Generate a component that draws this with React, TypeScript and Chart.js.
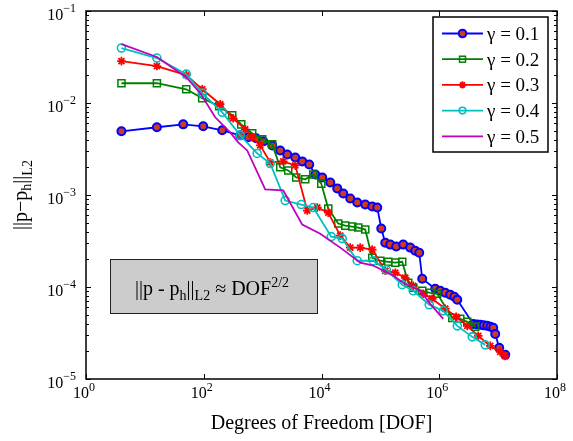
import React, { useEffect, useRef } from 'react';
import { Chart, registerables } from 'chart.js';

Chart.register(...registerables);

// ---- data ----
const dofG1 = [4, 16, 44.8, 97.9, 206, 416, 569, 778, 1023, 1455, 1991, 2618, 3581, 4710, 6194, 7834, 10300, 14090, 18500, 23400, 30770, 40450, 55330, 72750, 88510, 103500, 121100, 147200, 185900, 244400, 321400, 390800, 457100, 514000, 855000, 1.04e6, 1.265e6, 1.538e6, 1.799e6, 2.023e6, 3.779e6, 4.4e6, 4.97e6, 5.7e6, 6.53e6, 7.4e6, 8.26e6, 8.93e6, 1.045e7, 1.321e7];
const errG1 = [4.92e-3, 5.45e-3, 5.86e-3, 5.58e-3, 5.05e-3, 4.45e-3, 4.24e-3, 4.13e-3, 3.83e-3, 3.46e-3, 3.05e-3, 2.76e-3, 2.56e-3, 2.32e-3, 2.15e-3, 1.67e-3, 1.55e-3, 1.37e-3, 1.18e-3, 1.04e-3, 9.16e-4, 8.28e-4, 7.87e-4, 7.5e-4, 7.31e-4, 4.32e-4, 3.03e-4, 2.89e-4, 2.75e-4, 2.89e-4, 2.68e-4, 2.48e-4, 2.36e-4, 1.23e-4, 9.57e-5, 9.1e-5, 8.65e-5, 8.24e-5, 7.83e-5, 7.26e-5, 3.97e-5, 3.92e-5, 3.88e-5, 3.83e-5, 3.78e-5, 3.7e-5, 3.6e-5, 3.09e-5, 2.18e-5, 1.83e-5];

const dofG2 = [4, 16, 50.4, 94.2, 183, 304, 433, 665, 984, 1455, 1991, 2723, 3724, 5297, 7244, 9908, 13030, 19240, 25300, 33270, 42070, 55330, 72750, 99540, 136100, 178800, 235000, 297200, 361400, 514000, 703100, 924700, 1.663e6, 2.275e6, 2.992e6, 4.087e6];
const errG2 = [1.64e-2, 1.64e-2, 1.41e-2, 1.13e-2, 9.22e-3, 7.35e-3, 5.86e-3, 4.68e-3, 4.03e-3, 3.55e-3, 2.0e-3, 1.85e-3, 1.55e-3, 1.48e-3, 1.67e-3, 1.33e-3, 7.13e-4, 4.89e-4, 4.65e-4, 4.54e-4, 4.43e-4, 4.21e-4, 2.08e-4, 1.93e-4, 1.88e-4, 1.84e-4, 1.88e-4, 1.11e-4, 9.81e-5, 9.1e-5, 8.65e-5, 8.44e-5, 4.62e-5, 4.51e-5, 4.18e-5, 3.69e-5];

const dofG3 = [4, 16, 50.4, 94.2, 190, 316, 506, 665, 910, 1346, 2239, 3581, 5728, 8472, 13030, 20810, 30770, 45500, 72750, 121100, 178800, 264300, 361400, 534600, 760300, 1.265e6, 1.945e6, 2.992e6, 4.596e6, 7.35e6, 1.086e7, 1.321e7];
const errG3 = [2.85e-2, 2.52e-2, 2.01e-2, 1.41e-2, 9.69e-3, 6.82e-3, 5.18e-3, 4.24e-3, 3.46e-3, 2.26e-3, 2.32e-3, 2.1e-3, 6.78e-4, 7.31e-4, 6.44e-4, 3.62e-4, 2.68e-4, 2.68e-4, 2.55e-4, 1.5e-4, 1.43e-4, 1.26e-4, 1.03e-4, 8.44e-5, 7.45e-5, 5.8e-5, 4.74e-5, 3.78e-5, 2.94e-5, 2.29e-5, 1.97e-5, 1.78e-5];

const dofG4 = [4, 16, 50.4, 94.2, 206, 416, 809, 1346, 2421, 4529, 7244, 14640, 22500, 40450, 75670, 125900, 235000, 361400, 676100, 1.17e6, 2.023e6, 3.634e6, 6.04e6];
const errG4 = [3.96e-2, 3.08e-2, 2.06e-2, 1.28e-2, 7.93e-3, 4.45e-3, 2.83e-3, 2.2e-3, 8.71e-4, 7.87e-4, 7.31e-4, 3.53e-4, 3.36e-4, 1.93e-4, 1.93e-4, 1.54e-4, 1.06e-4, 9.1e-5, 6.41e-5, 5.51e-5, 3.78e-5, 2.87e-5, 2.35e-5];

const dofG5 = [4, 16, 50.4, 87, 156.6, 281, 385, 547, 1107, 2239, 4710, 9528, 20810, 45500, 75670, 165300, 244400, 475300, 703100, 1.17e6];
const errG5 = [4.37e-2, 3.16e-2, 1.91e-2, 1.28e-2, 6.99e-3, 4.8e-3, 3.73e-3, 3.05e-3, 1.15e-3, 1.12e-3, 4.77e-4, 3.8e-4, 2.68e-4, 1.84e-4, 1.71e-4, 1.33e-4, 1.11e-4, 9.1e-5, 6.56e-5, 4.51e-5];

const seriesLabels = ['γ = 0.1', 'γ = 0.2', 'γ = 0.3', 'γ = 0.4', 'γ = 0.5'];
const xTickExponents = [0, 2, 4, 6, 8];
const yTickExponents = [-5, -4, -3, -2, -1];
const xTitle = 'Degrees of Freedom [DOF]';

// ---- styles ----
const FONT = "'Liberation Serif', 'Times New Roman', Times, serif";
const W = 573;
const H = 441;

type Style = { color: string; fill: string; shape: 'circle' | 'rect' | 'star' | 'none'; r: number; bw: number; lr: number };
const styles: Style[] = [
  { color: '#0000ff', fill: '#d03a1f', shape: 'circle', r: 4, bw: 2, lr: 3.8 },
  { color: '#008000', fill: 'rgba(0,0,0,0)', shape: 'rect', r: 5, bw: 1.5, lr: 4.2 },
  { color: '#ff0000', fill: '#ff0000', shape: 'star', r: 4.3, bw: 1.8, lr: 3.6 },
  { color: '#00bfbf', fill: 'rgba(0,0,0,0)', shape: 'circle', r: 4, bw: 1.6, lr: 3.3 },
  { color: '#bf00bf', fill: 'rgba(0,0,0,0)', shape: 'none', r: 0, bw: 0, lr: 0 },
];

type Part = { t: string; s: number; dy?: number };

function richWidth(ctx: CanvasRenderingContext2D, parts: Part[]) {
  let w = 0;
  for (const p of parts) {
    ctx.font = `${p.s}px ${FONT}`;
    w += ctx.measureText(p.t).width;
  }
  return w;
}
function drawRich(ctx: CanvasRenderingContext2D, parts: Part[], x: number, y: number) {
  let cx = x;
  for (const p of parts) {
    ctx.font = `${p.s}px ${FONT}`;
    ctx.fillText(p.t, cx, y + (p.dy || 0));
    cx += ctx.measureText(p.t).width;
  }
}

function drawMarker(ctx: CanvasRenderingContext2D, st: Style, x: number, y: number) {
  const r = st.lr;
  ctx.save();
  ctx.strokeStyle = st.color;
  ctx.fillStyle = st.fill;
  ctx.lineWidth = st.bw;
  if (st.shape === 'circle') {
    ctx.beginPath();
    ctx.arc(x, y, r, 0, Math.PI * 2);
    ctx.fill();
    ctx.stroke();
  } else if (st.shape === 'rect') {
    const h = r * Math.SQRT1_2;
    ctx.strokeRect(x - h, y - h, 2 * h, 2 * h);
  } else if (st.shape === 'star') {
    ctx.beginPath();
    for (let k = 0; k < 4; k++) {
      const a = (k * Math.PI) / 4;
      ctx.moveTo(x - Math.cos(a) * r, y - Math.sin(a) * r);
      ctx.lineTo(x + Math.cos(a) * r, y + Math.sin(a) * r);
    }
    ctx.stroke();
  }
  ctx.restore();
}

const decorPlugin = {
  id: 'decor',
  afterDatasetsDraw(chart: any) {
    const ctx: CanvasRenderingContext2D = chart.ctx;
    const xs = chart.scales.x;
    const ys = chart.scales.y;
    const { left, right, top, bottom } = chart.chartArea;
    ctx.save();

    // frame
    ctx.strokeStyle = '#000';
    ctx.lineWidth = 1.5;
    ctx.strokeRect(left, top, right - left, bottom - top);

    // ticks
    ctx.lineWidth = 1;
    ctx.beginPath();
    for (const e of xTickExponents) {
      const px = Math.round(xs.getPixelForValue(Math.pow(10, e))) + 0.5;
      ctx.moveTo(px, bottom); ctx.lineTo(px, bottom - 5);
      ctx.moveTo(px, top); ctx.lineTo(px, top + 5);
    }
    for (let e = -5; e <= -1; e++) {
      for (let k = 1; k <= 9; k++) {
        if (e === -1 && k > 1) break;
        const v = k * Math.pow(10, e);
        const py = Math.round(ys.getPixelForValue(v)) + 0.5;
        const len = k === 1 ? 5 : 3;
        ctx.moveTo(left, py); ctx.lineTo(left + len, py);
        ctx.moveTo(right, py); ctx.lineTo(right - len, py);
      }
    }
    ctx.stroke();

    // tick labels
    ctx.fillStyle = '#000';
    ctx.textBaseline = 'alphabetic';
    ctx.textAlign = 'left';
    for (const e of xTickExponents) {
      const px = xs.getPixelForValue(Math.pow(10, e));
      const parts: Part[] = [{ t: '10', s: 16 }, { t: String(e), s: 12, dy: -7 }];
      const w = richWidth(ctx, parts);
      drawRich(ctx, parts, px - w / 2 - 2, bottom + 19);
    }
    for (const e of yTickExponents) {
      const py = ys.getPixelForValue(Math.pow(10, e));
      const parts: Part[] = [{ t: '10', s: 16 }, { t: '−' + String(-e), s: 12, dy: -8 }];
      const w = richWidth(ctx, parts);
      drawRich(ctx, parts, left - 10 - w, py + 8.5);
    }

    // x title
    ctx.font = `20px ${FONT}`;
    ctx.textAlign = 'center';
    ctx.fillText(xTitle, (left + right) / 2, 429);
    ctx.textAlign = 'left';

    // y title (rotated)
    ctx.save();
    ctx.translate(27, (top + bottom) / 2);
    ctx.rotate(-Math.PI / 2);
    const yParts: Part[] = [
      { t: '||p−p', s: 20 },
      { t: 'h', s: 14, dy: 4 },
      { t: '||', s: 20 },
      { t: 'L2', s: 14, dy: 5 },
    ];
    const yw = richWidth(ctx, yParts);
    drawRich(ctx, yParts, -yw / 2, 0);
    ctx.restore();

    // annotation box
    ctx.fillStyle = '#cccccc';
    ctx.fillRect(110, 259, 207, 54);
    ctx.strokeStyle = '#222';
    ctx.lineWidth = 1;
    ctx.strokeRect(110.5, 259.5, 207, 54);
    ctx.fillStyle = '#000';
    const aParts: Part[] = [
      { t: '||p - p', s: 20 },
      { t: 'h', s: 14, dy: 5 },
      { t: '||', s: 20 },
      { t: 'L2', s: 14, dy: 5 },
      { t: ' ≈ DOF', s: 20 },
      { t: '2/2', s: 14, dy: -8 },
    ];
    const aw = richWidth(ctx, aParts);
    drawRich(ctx, aParts, 212 - aw / 2, 295);

    // legend
    ctx.fillStyle = '#fff';
    ctx.fillRect(433, 17, 115, 135);
    ctx.strokeStyle = '#000';
    ctx.lineWidth = 1.5;
    ctx.strokeRect(433, 17, 115, 135);
    for (let i = 0; i < seriesLabels.length; i++) {
      const st = styles[i];
      const ry = 33.5 + i * 25.7;
      ctx.strokeStyle = st.color;
      ctx.lineWidth = 1.8;
      ctx.beginPath();
      ctx.moveTo(442, ry); ctx.lineTo(483, ry);
      ctx.stroke();
      drawMarker(ctx, st, 462.5, ry);
      ctx.fillStyle = '#000';
      ctx.font = `19px ${FONT}`;
      ctx.fillText(seriesLabels[i], 487, ry + 6.5);
    }
    ctx.restore();
  },
};

const allDof = [dofG1, dofG2, dofG3, dofG4, dofG5];
const allErr = [errG1, errG2, errG3, errG4, errG5];

export default function App() {
  const ref = useRef<HTMLCanvasElement | null>(null);
  useEffect(() => {
    if (!ref.current) return;
    const datasets = allDof.map((d, i) => {
      const st = styles[i];
      return {
        label: seriesLabels[i],
        data: d.map((x, j) => ({ x, y: allErr[i][j] })),
        showLine: true,
        borderColor: st.color,
        backgroundColor: st.color,
        borderWidth: 1.8,
        pointStyle: st.shape === 'none' ? false : st.shape,
        pointRadius: st.r,
        pointBorderWidth: st.bw,
        pointBorderColor: st.color,
        pointBackgroundColor: st.fill,
        pointHoverRadius: st.r,
        tension: 0,
        order: 4 - i,
      };
    });
    const chart = new Chart(ref.current, {
      type: 'scatter',
      data: { datasets } as any,
      options: {
        responsive: false,
        animation: false,
        devicePixelRatio: 1,
        events: [],
        layout: { padding: { left: 86, right: W - 557, top: 11, bottom: H - 379 } },
        plugins: { legend: { display: false }, tooltip: { enabled: false } },
        scales: {
          x: { type: 'logarithmic', min: 1, max: 1e8, display: false },
          y: { type: 'logarithmic', min: 1e-5, max: 1e-1, display: false },
        },
      } as any,
      plugins: [decorPlugin],
    });
    return () => chart.destroy();
  }, []);
  return (
    <div style={{ position: 'fixed', left: 0, top: 0, width: W, height: H, background: '#fff' }}>
      <canvas ref={ref} width={W} height={H} style={{ width: W, height: H, display: 'block' }} />
    </div>
  );
}
